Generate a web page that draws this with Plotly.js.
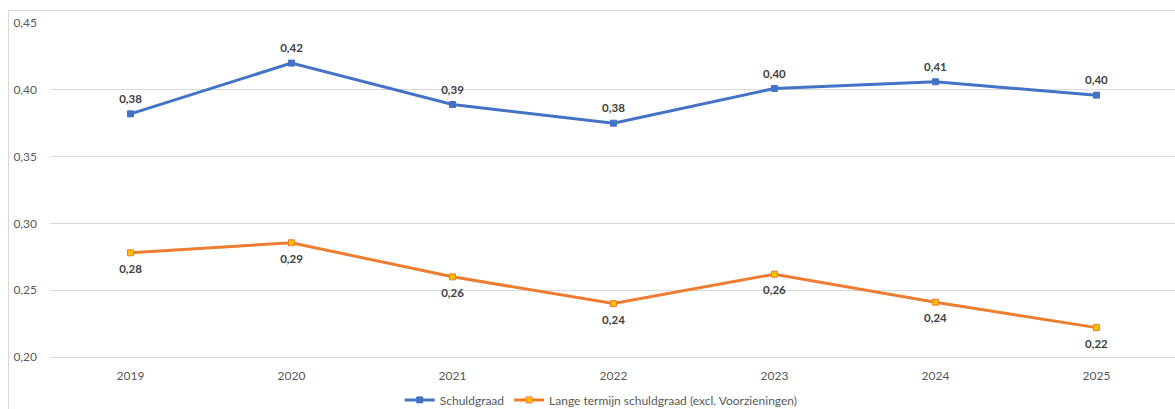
<!DOCTYPE html>
<html>
<head>
<meta charset="utf-8">
<script src="https://cdn.plot.ly/plotly-3.0.1.min.js"></script>
<style>
html,body{margin:0;padding:0;background:#fff;overflow:hidden;}
#frame{position:absolute;left:8px;top:10px;width:1200px;height:420px;border:1px solid #d9d9d9;box-sizing:border-box;}
#chart{position:absolute;left:0;top:0;width:1175px;height:409px;}
</style>
</head>
<body>
<div id="frame"></div>
<div id="chart"></div>
<script>
const years = ["2019","2020","2021","2022","2023","2024","2025"];
const schuldgraad = [0.382, 0.420, 0.389, 0.375, 0.401, 0.406, 0.396];
const langeTermijn = [0.278, 0.2855, 0.260, 0.240, 0.262, 0.241, 0.222];
const yTicks = [0.20, 0.25, 0.30, 0.35, 0.40, 0.45];
const fmt = v => v.toFixed(2).replace('.', ',');

const font = "Lato, 'Open Sans', sans-serif";
const labelFont = {family: font, size: 11.5, color: "#404040", weight: "bold"};

const traces = [
  {
    x: years, y: schuldgraad, name: "Schuldgraad",
    type: "scatter", mode: "lines+markers",
    line: {color: "#4472C4", width: 3},
    marker: {symbol: "square", size: 6, color: "#4472C4", line: {color: "#4472C4", width: 1}}
  },
  {
    x: years, y: langeTermijn, name: "Lange termijn schuldgraad (excl. Voorzieningen)",
    type: "scatter", mode: "lines+markers",
    line: {color: "#ED7D31", width: 3},
    marker: {symbol: "square", size: 6, color: "#FFC000", line: {color: "#ED7D31", width: 1}}
  },
  {
    x: years, y: schuldgraad, showlegend: false, hoverinfo: "skip",
    type: "scatter", mode: "markers+text",
    marker: {size: 11, opacity: 0, color: "#ffffff"},
    text: schuldgraad.map(fmt), textposition: "top center", textfont: labelFont,
    cliponaxis: false
  },
  {
    x: years, y: langeTermijn, showlegend: false, hoverinfo: "skip",
    type: "scatter", mode: "markers+text",
    marker: {size: 17, opacity: 0, color: "#ffffff"},
    text: langeTermijn.map(fmt), textposition: "bottom center", textfont: labelFont,
    cliponaxis: false
  }
];

const layout = {
  width: 1175, height: 409,
  margin: {l: 50, r: 0, t: 23, b: 52, autoexpand: false},
  paper_bgcolor: "rgba(0,0,0,0)", plot_bgcolor: "rgba(0,0,0,0)",
  font: {family: font, size: 12, color: "#595959"},
  showlegend: true,
  legend: {orientation: "h", x: 0.49, xanchor: "center", y: -0.085, yanchor: "top",
           font: {family: font, size: 12, color: "#595959"}, itemwidth: 30},
  xaxis: {type: "category", range: [-0.5, 6.488], showgrid: false,
          showline: true, linecolor: "#d9d9d9", linewidth: 1,
          ticks: "", ticklabelstandoff: 8, tickfont: {family: font, size: 12, color: "#595959"},
          fixedrange: true},
  yaxis: {range: [0.2, 0.45], tickvals: yTicks, ticktext: yTicks.map(fmt),
          showgrid: true, gridcolor: "#d9d9d9", gridwidth: 1, zeroline: false,
          showline: false, ticks: "", ticklabelstandoff: 12,
          tickfont: {family: font, size: 12, color: "#595959"}, fixedrange: true}
};

Plotly.newPlot("chart", traces, layout, {staticPlot: true, displayModeBar: false});
</script>
</body>
</html>
